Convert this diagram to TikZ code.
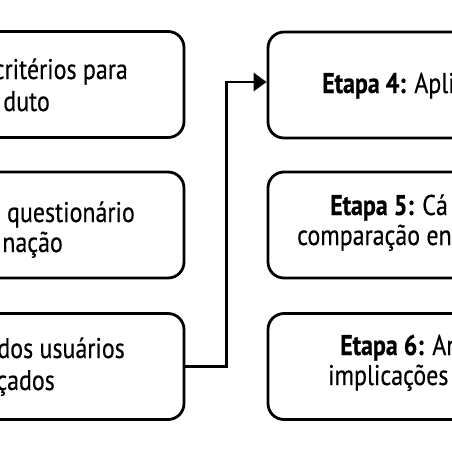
\documentclass[tikz,border=0pt]{standalone}
\usepackage{fontspec}
\setmainfont[FakeStretch=0.84,UprightFeatures={FakeBold=0.4},BoldFeatures={FakeBold=0.6}]{PT Sans}
\usetikzlibrary{arrows.meta}
\tikzset{
  etapa/.style={draw=black,line width=2.8pt,rounded corners=16pt,minimum width=360pt,minimum height=106pt,inner sep=0pt},
  lbl/.style={inner sep=0pt,font=\fontsize{28.5}{32}\selectfont},
  conn/.style={line width=2.8pt,-{Triangle[length=13pt,width=18pt]}},
}
\begin{document}
\begin{tikzpicture}[x=1pt,y=-1pt]
\useasboundingbox (0,0) rectangle (452,452);
\clip (0,0) rectangle (452,452);
% left column
\node[etapa] (e1) at (4,84.5) {};
\node[etapa] (e2) at (4,225) {};
\node[etapa] (e3) at (4,366.5) {};
% right column
\node[etapa] (e4) at (448,85) {};
\node[etapa] (e5) at (448,225) {};
\node[etapa] (e6) at (448,366.5) {};
% texts
\node[lbl,anchor=base east] (t1a) at (128,79) {critérios para};
\node[lbl,anchor=base east] (t1b) at (50,111) {duto};
\node[lbl,anchor=base east] (t2a) at (135,222) {questionário};
\node[lbl,anchor=base east] (t2b) at (63,252) {nação};
\node[lbl,anchor=base east] (t3a) at (125,358) {dos usuários};
\node[lbl,anchor=base east] (t3b) at (55,390) {çados};
\node[lbl,anchor=base west] (t4) at (322,93) {\textbf{Etapa 4:} Apli};
\node[lbl,anchor=base west] (t5a) at (330,215) {\textbf{Etapa 5:} Cá};
\node[lbl,anchor=base west] (t5b) at (297,245) {comparação en};
\node[lbl,anchor=base west] (t6a) at (340,355) {\textbf{Etapa 6:} An};
\node[lbl,anchor=base west] (t6b) at (328,385) {implicações};
% connector
\draw[conn] (e3.east) -- ++(41,0) |- ([yshift=3pt]e4.west);
\end{tikzpicture}
\end{document}
